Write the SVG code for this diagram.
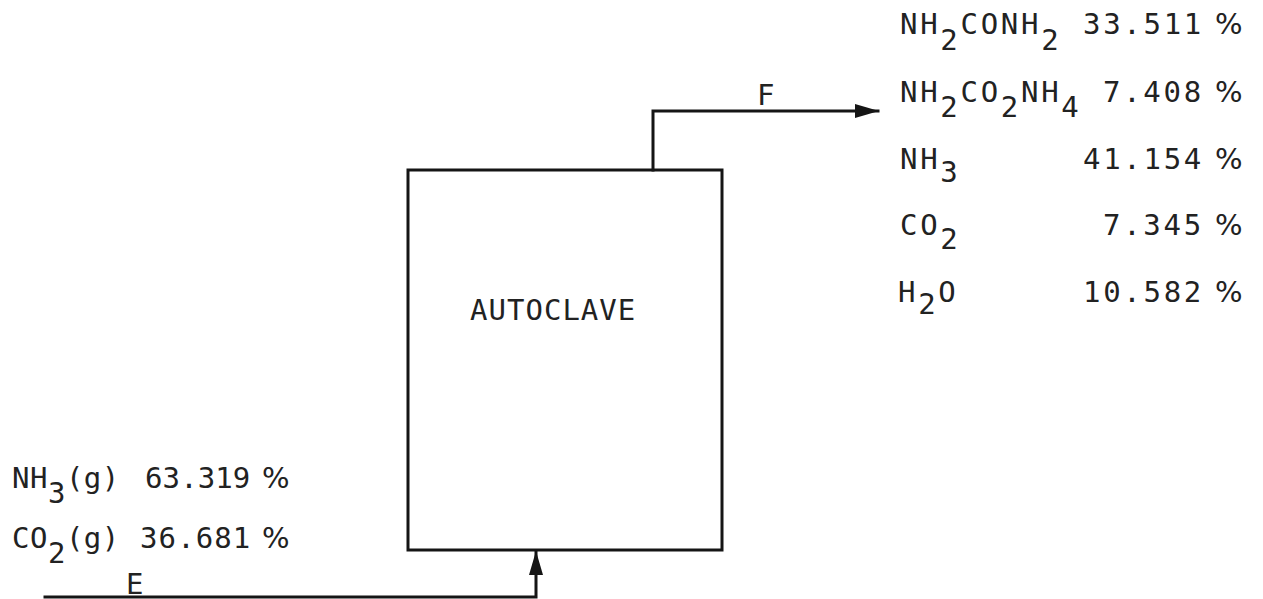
<svg xmlns="http://www.w3.org/2000/svg" width="1263" height="599" viewBox="0 0 1263 599">
<defs>
<style>
.t{font-family:"DejaVu Sans Mono","Liberation Mono",monospace;font-size:29px;letter-spacing:2.7px;fill:#222222}
.s{font-family:"DejaVu Sans Mono","Liberation Mono",monospace;font-size:29px;letter-spacing:0.5px;fill:#222222}
.p{font-family:"DejaVu Sans","Liberation Sans",sans-serif;font-size:29px;fill:#222222}
.ln{fill:none;stroke:#151515;stroke-width:3;stroke-linecap:square}
</style>
<marker id="ah" viewBox="0 0 24 16" refX="23" refY="8" markerUnits="userSpaceOnUse" markerWidth="24" markerHeight="16" orient="auto">
<path d="M0,1 L24,8 L0,15 z" fill="#151515"/>
</marker>
</defs>
<rect width="1263" height="599" fill="#ffffff"/>
<g id="autoclave">
<rect x="408" y="170" width="314" height="380" class="ln"/>
<text class="t" x="470" y="320" textLength="168">AUTOCLAVE</text>
</g>
<g id="connectors">
<path class="ln" d="M653,170 V111 H878" marker-end="url(#ah)"/>
<path class="ln" d="M45,597 H536 V552" marker-end="url(#ah)"/>
<text class="t" x="757" y="105">F</text>
<text class="t" x="126" y="594">E</text>
</g>
<g id="feed-composition">
<text class="s" x="12" y="488">NH<tspan dy="15">3</tspan><tspan dy="-15">(g)</tspan></text>
<text class="t" x="145" y="488" textLength="108">63.319</text>
<text class="p" x="262" y="488">%</text>
<text class="s" x="12" y="548">CO<tspan dy="15">2</tspan><tspan dy="-15">(g)</tspan></text>
<text class="t" x="140" y="548" textLength="113">36.681</text>
<text class="p" x="262" y="548">%</text>
</g>
<g id="product-composition">
<text class="t" x="900" y="34">NH<tspan dy="16">2</tspan><tspan dy="-16">CONH</tspan><tspan dy="16">2</tspan></text>
<text class="t" x="1083" y="34">33.511</text>
<text class="p" x="1215" y="34">%</text>
<text class="t" x="900" y="102">NH<tspan dy="15">2</tspan><tspan dy="-15">CO</tspan><tspan dy="15">2</tspan><tspan dy="-15">NH</tspan><tspan dy="15">4</tspan></text>
<text class="t" x="1103" y="102">7.408</text>
<text class="p" x="1215" y="102">%</text>
<text class="t" x="900" y="169">NH<tspan dy="13">3</tspan></text>
<text class="t" x="1083" y="169">41.154</text>
<text class="p" x="1215" y="169">%</text>
<text class="t" x="900" y="235">CO<tspan dy="14">2</tspan></text>
<text class="t" x="1103" y="235">7.345</text>
<text class="p" x="1215" y="235">%</text>
<text class="t" x="898" y="302">H<tspan dy="12">2</tspan><tspan dy="-12">O</tspan></text>
<text class="t" x="1083" y="302">10.582</text>
<text class="p" x="1215" y="302">%</text>
</g>
</svg>
